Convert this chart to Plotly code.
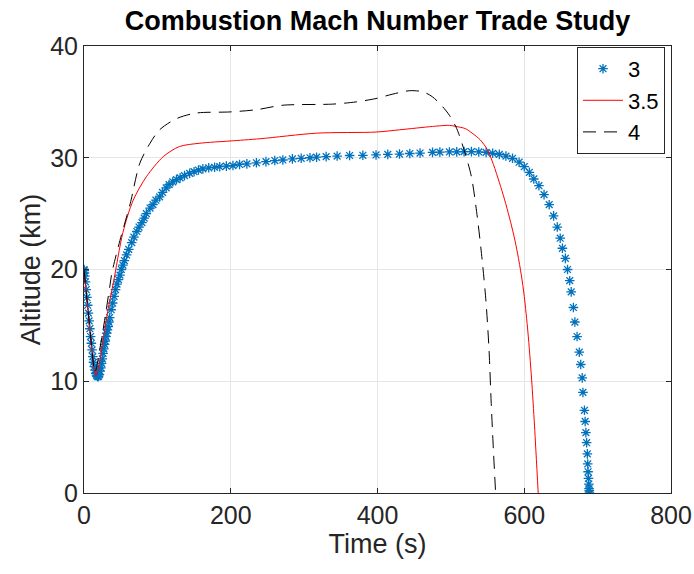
import plotly.graph_objects as go

# Series "3" (blue asterisk markers)
t3 = [0, 0.3, 0.7, 1.2, 2, 3, 4, 5, 6, 7, 8, 9, 10, 11, 12, 13, 14, 15, 16, 17, 18, 19, 20,
      21, 22, 23, 24, 25, 26, 27, 28, 29, 30, 31, 32, 33, 34, 35, 37, 39, 41, 43, 45, 47, 49,
      51, 53, 55, 58, 61, 65, 68, 72, 75, 79, 82, 85, 90, 94, 98, 103, 107, 112, 116, 121,
      126, 131, 137, 144, 150, 156, 162, 170, 178, 185, 194, 203, 212, 222, 235, 248, 260,
      271, 284, 296, 308, 317, 330, 345, 362, 380, 398, 414, 430, 444, 458, 475, 485, 498,
      508, 518, 528, 538, 548, 557, 566, 575, 584, 593, 600, 607, 613, 620, 627, 634, 640,
      645, 649, 652, 656, 659, 662, 664, 667, 669, 672, 675, 677, 679, 680, 682, 683, 684,
      685, 686, 686.5, 687, 687.5, 688, 688.3, 688.6, 689]
h3 = [20.0, 19.9, 19.7, 19.4, 18.9, 18.2, 17.5, 16.8, 16.1, 15.4, 14.7, 14.0, 13.4, 12.8,
      12.2, 11.7, 11.3, 11.0, 10.7, 10.55, 10.45, 10.4, 10.45, 10.6, 10.9, 11.2, 11.6, 12.0,
      12.5, 12.9, 13.3, 13.6, 14.0, 14.3, 14.6, 14.9, 15.3, 15.7, 16.4, 17.0, 17.6, 18.2,
      18.7, 19.1, 19.5, 20.0, 20.4, 20.8, 21.3, 21.8, 22.4, 22.9, 23.4, 23.8, 24.2, 24.6,
      25.0, 25.5, 25.8, 26.2, 26.5, 26.9, 27.3, 27.6, 27.85, 28.05, 28.2, 28.4, 28.6, 28.75,
      28.9, 29.0, 29.1, 29.15, 29.2, 29.25, 29.3, 29.4, 29.45, 29.55, 29.65, 29.75, 29.8,
      29.9, 29.95, 30.0, 30.05, 30.1, 30.15, 30.2, 30.22, 30.25, 30.3, 30.33, 30.38, 30.42,
      30.48, 30.5, 30.52, 30.53, 30.55, 30.55, 30.52, 30.48, 30.4, 30.3, 30.15, 29.95, 29.6,
      29.2, 28.7, 28.1, 27.5, 26.7, 25.8, 24.8, 23.8, 22.8, 21.9, 21.0, 20.0, 19.0, 18.0,
      16.6, 15.3, 14.0, 12.6, 11.5, 10.3, 9.0, 7.4, 6.4, 5.4, 4.5, 3.5, 2.6, 1.9, 1.3, 0.8,
      0.4, 0.2, 0.0]

# Series "3.5" (red line)
t35 = [0, 3, 6, 9, 12, 14, 16, 18, 21, 26, 33, 40, 53, 67, 85, 108, 130, 158, 199, 240,
       317, 398, 430, 475, 498, 507, 520, 529, 540, 550, 558, 566, 573, 580, 586, 591, 596,
       600, 605, 610, 614, 619]
h35 = [20.0, 18.0, 16.0, 14.0, 12.0, 11.0, 10.5, 10.7, 11.6, 13.7, 16.5, 18.8, 23.3, 26.2,
       28.3, 30.1, 31.0, 31.3, 31.5, 31.7, 32.2, 32.3, 32.5, 32.8, 32.9, 32.8, 32.6, 32.2,
       31.6, 30.7, 29.4, 27.8, 26.3, 24.6, 23.0, 21.4, 19.5, 17.6, 14.4, 10.2, 6.0, 0.0]

# Series "4" (black dashed line)
t4 = [0, 3, 6, 9, 12, 14, 15, 17, 20, 26, 35, 38, 49, 63, 76, 90, 103, 126, 153, 199, 235,
      271, 339, 371, 398, 421, 444, 462, 475, 489, 498, 508, 518, 528, 536, 543, 548, 552,
      555, 558, 561]
h4 = [20.0, 18.0, 16.0, 14.0, 12.0, 11.0, 10.8, 11.2, 12.3, 14.6, 18.4, 19.7, 22.6, 25.9,
      29.5, 31.3, 32.5, 33.5, 34.0, 34.1, 34.3, 34.7, 34.8, 35.0, 35.3, 35.7, 36.0, 35.9,
      35.45, 34.55, 33.8, 32.6, 30.7, 28.3, 24.7, 20.6, 17.0, 12.8, 8.0, 3.8, 0.0]

x_ticks = [0, 200, 400, 600, 800]
y_ticks = [0, 10, 20, 30, 40]

FONT = "Liberation Sans, Arial, Helvetica, sans-serif"
AX = "#262626"

fig = go.Figure()
fig.add_trace(go.Scatter(
    x=t3, y=h3, mode="markers", name="3",
    marker=dict(symbol="asterisk-open", size=8, color="#0072BD",
                line=dict(color="#0072BD", width=1.3)),
))
fig.add_trace(go.Scatter(
    x=t35, y=h35, mode="lines", name="3.5", line_shape="spline",
    line=dict(color="#FF0000", width=1, smoothing=0.8),
))
fig.add_trace(go.Scatter(
    x=t4, y=h4, mode="lines", name="4", line_shape="spline",
    line=dict(color="#000000", width=1, dash="13px,8px", smoothing=0.8),
))

axis_common = dict(
    showline=True, linecolor=AX, linewidth=1, mirror="ticks",
    ticks="inside", ticklen=5, tickcolor=AX, tickwidth=1,
    showgrid=True, gridcolor="#e6e6e6", gridwidth=1, zeroline=False,
    tickfont=dict(family=FONT, size=25, color=AX), automargin=False,
)

fig.update_layout(
    width=694, height=574,
    margin=dict(l=84, r=23, t=46, b=81),
    paper_bgcolor="white", plot_bgcolor="white",
    title=dict(text="<b>Combustion Mach Number Trade Study</b>",
               font=dict(family=FONT, size=27, color="black"),
               x=(84 + 671) / 2 / 694, xanchor="center", y=1 - 21 / 574, yanchor="middle"),
    xaxis=dict(range=[0, 800], tickvals=x_ticks, ticktext=[str(v) for v in x_ticks],
               title=dict(text="Time (s)", font=dict(family=FONT, size=27, color=AX), standoff=4),
               **axis_common),
    yaxis=dict(range=[0, 40], tickvals=y_ticks, ticktext=[str(v) for v in y_ticks],
               title=dict(text="Altitude (km)", font=dict(family=FONT, size=27, color=AX), standoff=1),
               **axis_common),
    legend=dict(x=(665 - 84) / 587, xanchor="right", y=0.998, yanchor="top",
                bgcolor="white", bordercolor=AX, borderwidth=1,
                font=dict(family=FONT, size=22, color="black"),
                itemwidth=40, tracegroupgap=0),
    showlegend=True,
    hovermode=False,
)

fig.write_html("out.html")
